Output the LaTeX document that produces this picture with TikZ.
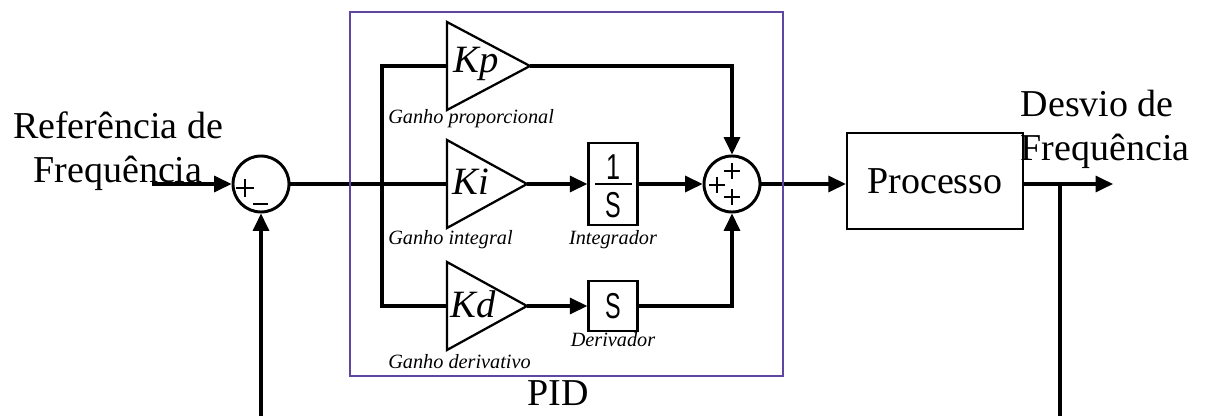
\documentclass[tikz,border=0pt]{standalone}
\usepackage{fontspec}
\setmainfont{Liberation Serif}
\newfontfamily\arialf{Liberation Sans}
\usetikzlibrary{arrows.meta,calc}
\definecolor{pidpurple}{RGB}{95,70,160}
\begin{document}
\begin{tikzpicture}[x=0.75pt,y=-0.75pt,
  wire/.style={line width=2.3pt},
  arr/.style={line width=2.3pt,-{Triangle[length=13pt,width=12pt]}},
  blk/.style={draw,line width=1.8pt,inner sep=0pt},
  tri/.style={line width=1.7pt,line join=miter},
  sumc/.style={draw,circle,line width=2.2pt,minimum size=42pt,inner sep=0pt},
  sgn/.style={line width=2.2pt},
  big/.style={font=\fontsize{28.5}{33}\selectfont},
  gain/.style={font=\fontsize{29}{33}\selectfont\itshape,inner sep=0pt},
  small/.style={font=\fontsize{15.2}{17}\selectfont\itshape,inner sep=0pt},
  sf/.style={font=\fontsize{27}{28}\selectfont\arialf,inner sep=0pt},
]
\path[use as bounding box] (0,0) rectangle (1213,416);
\clip (0,0) rectangle (1213,416);

% summing junctions
\node[sumc] (s1) at (261,184) {};
\node[sumc] (s2) at (732,184) {};
\draw[sgn] (236,188) -- (254,188) (245,179) -- (245,197);
\draw[sgn] (253,204) -- (268,204);
\draw[sgn] (724,171) -- (740,171) (732,163) -- (732,179);
\draw[sgn] (709,185) -- (725,185) (717,177) -- (717,193);
\draw[sgn] (724,197) -- (740,197) (732,189) -- (732,205);

% gains (triangles)
\draw[tri] (447,22) -- (530,66) -- (447,110) -- cycle;
\draw[tri] (447,140) -- (527,184) -- (447,228) -- cycle;
\draw[tri] (447,262) -- (527,306) -- (447,350) -- cycle;
\coordinate (kpin) at (447,66);  \coordinate (kpout) at (530,66);
\coordinate (kiin) at (447,184); \coordinate (kiout) at (527,184);
\coordinate (kdin) at (447,306); \coordinate (kdout) at (527,306);
\node[gain] (kp) at (476,64) {Kp};
\node[gain] (ki) at (471,182) {Ki};
\node[gain] (kd) at (473,304) {Kd};

% integrator and derivator
\node[blk,minimum width=36.75pt,minimum height=61.5pt] (integ) at (613,184) {};
\node[sf] (one) at (613,167) {\scalebox{0.7}[1]{1}};
\draw[line width=1.6pt] (595,184) -- (632,184);
\node[sf] (sint) at (613,205) {\scalebox{0.65}[1]{S}};
\node[blk,minimum width=36.75pt,minimum height=37.5pt] (deriv) at (613,306) {};
\node[sf] (sder) at (613,306) {\scalebox{0.65}[1]{S}};

% process
\node[blk,minimum width=132pt,minimum height=72pt,big] (proc) at (935,181) {Processo};

% labels
\node[small,anchor=west] (lkp) at (388,119) {Ganho proporcional};
\node[small,anchor=west] (lki) at (388,240) {Ganho integral};
\node[small,anchor=west] (lkd) at (388,362) {Ganho derivativo};
\node[small] (lint) at (613,240) {Integrador};
\node[small] (lder) at (613,340) {Derivador};
\node[big,align=center] (ref) at (118,151) {Referência de\\Frequência};
\node[big,align=left,anchor=west] (dev) at (1016,129) {Desvio de\\Frequência};
\node[big] (pidl) at (558,393) {PID};

% connectors
\coordinate (refin) at (152,184);
\coordinate (bt) at (382,66);
\coordinate (bb) at (382,306);
\coordinate (br) at (1060,184);
\coordinate (out) at (1113,184);
\coordinate (fbr) at (1060,440);
\coordinate (fbl) at (261,440);

\draw[arr] (refin) -- (s1.west);
\draw[wire] (s1.east) -- (kiin);
\draw[wire] (kpin) -- (bt) -- (bb) -- (kdin);
\draw[arr] (kiout) -- (integ.west);
\draw[arr] (kdout) -- (deriv.west);
\draw[arr] (integ.east) -- (s2.west);
\draw[arr] (kpout) -| (s2.north);
\draw[arr] (deriv.east) -| (s2.south);
\draw[arr] (s2.east) -- (s2.east -| proc.west);
\draw[arr] (s2.east -| proc.east) -- (out);
\draw[arr] (br) -- (fbr) -- (fbl) -- (s1.south);

% PID frame
\node[draw=pidpurple,line width=1.6pt,minimum width=324.75pt,minimum height=273pt,inner sep=0pt] (pid) at (566.5,194) {};
\end{tikzpicture}
\end{document}
